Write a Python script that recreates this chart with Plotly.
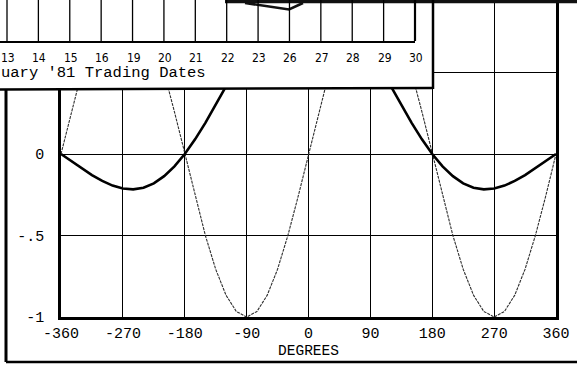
import plotly.graph_objects as go

# ---------------- data ----------------
degrees = list(range(-360, 361, 15))
sine_values = [0, .259, .5, .707, .866, .966, 1, .966, .866, .707, .5, .259,
               0, -.259, -.5, -.707, -.866, -.966, -1, -.966, -.866, -.707, -.5, -.259,
               0, .259, .5, .707, .866, .966, 1, .966, .866, .707, .5, .259,
               0, -.259, -.5, -.707, -.866, -.966, -1, -.966, -.866, -.707, -.5, -.259, 0]
sinc_values = [0, -.043, -.087, -.129, -.165, -.194, -.212, -.217, -.207, -.180, -.136, -.076,
               0, .090, .191, .300, .414, .527, .637, .738, .827, .900, .955, .989,
               1, .989, .955, .900, .827, .738, .637, .527, .414, .300, .191, .090,
               0, -.076, -.136, -.180, -.207, -.217, -.212, -.194, -.165, -.129, -.087, -.043, 0]
x_ticks = [-360, -270, -180, -90, 0, 90, 180, 270, 360]
x_tick_labels = ["-360", "-270", "-180", "-90", "0", "90", "180", "270", "360"]
y_ticks = [-1, -0.5, 0, 0.5]
y_tick_labels = ["-1", "-.5", "0", ""]   # the .5 label is hidden under the overlapping panel
date_labels = ["13", "14", "15", "16", "19", "20", "21", "22", "23",
               "26", "27", "28", "29", "30"]
panel_caption = "uary '81 Trading Dates"
axis_title = "DEGREES"

# ---------------- layout geometry ----------------
W, H = 577, 365
L, R, T, B = 61, 21, 2, 48
PW, PH = W - L - R, H - T - B


def px(x):
    return (x - L) / PW


def py(y):
    return (H - B - y) / PH


MONO = "Liberation Mono, DejaVu Sans Mono"
NARROW = "DejaVu Sans Condensed, Liberation Sans Narrow, DejaVu Sans"

fig = go.Figure()
fig.add_trace(go.Scatter(x=degrees, y=sine_values, mode="lines",
                         line=dict(color="#2e2e2e", width=1.1, dash="3px,1px"),
                         showlegend=False))
fig.add_trace(go.Scatter(x=degrees, y=sinc_values, mode="lines",
                         line=dict(color="black", width=2.6),
                         showlegend=False))

shapes = []


def seg(x0, y0, x1, y1, w=1, color="black"):
    shapes.append(dict(type="line", xref="paper", yref="paper",
                       x0=px(x0), y0=py(y0), x1=px(x1), y1=py(y1),
                       line=dict(color=color, width=w), layer="above"))


def poly(points, w=1, color="black"):
    d = ""
    for k, (a, b) in enumerate(points):
        d += ("M " if k == 0 else " L ") + "%.5f,%.5f" % (px(a), py(b))
    shapes.append(dict(type="path", xref="paper", yref="paper", path=d,
                       line=dict(color=color, width=w), layer="above"))


# outer frame of the printed page
seg(6, 88, 6, 362, 3)
seg(6, 362, 577, 362, 2.5)

# overlapping panel (another chart lying on top)
shapes.append(dict(type="rect", xref="paper", yref="paper",
                   x0=px(-5), x1=px(433), y0=py(-5), y1=py(89),
                   fillcolor="white", line=dict(width=0), layer="above"))
# dark edge along the top
seg(225, 1.5, 577, 1.5, 3.5, "#111")
poly([(245, 3), (289, 9.5), (303, 3)], 2.5, "#111")
seg(433, 0, 433, 89, 2.5)
seg(0, 89.5, 433, 88, 2.5)
seg(0, 42, 415, 42, 2.2)
step = (415 - 7) / (len(date_labels) - 1)
for i in range(len(date_labels)):
    xx = 7 + i * step
    poly([(xx, 0), (xx, 41)], 1.3 if i < len(date_labels) - 1 else 2.2)

annotations = []
for i, lab in enumerate(date_labels):
    annotations.append(dict(xref="paper", yref="paper", x=px(8 + i * step), y=py(58),
                            text=lab, showarrow=False, xanchor="center", yanchor="middle",
                            font=dict(family=NARROW, size=12, color="black")))
annotations.append(dict(xref="paper", yref="paper", x=px(-1), y=py(73),
                        text=panel_caption, showarrow=False, xanchor="left",
                        yanchor="middle",
                        font=dict(family=MONO, size=15.5, color="black")))

fig.update_layout(
    width=W, height=H,
    margin=dict(l=L, r=R, t=T, b=B, autoexpand=False),
    paper_bgcolor="white", plot_bgcolor="white",
    shapes=shapes, annotations=annotations,
    xaxis=dict(range=[-360, 360], tickvals=x_ticks, ticktext=x_tick_labels,
               showgrid=True, gridcolor="black", gridwidth=1,
               showline=True, linecolor="black", linewidth=2.5,
               ticks="", ticklabelstandoff=0, zeroline=False,
               tickfont=dict(family=MONO, size=15, color="black"),
               title=dict(text=axis_title, standoff=0,
                          font=dict(family=MONO, size=14.5, color="black"))),
    yaxis=dict(range=[-1, -1 + PH / 163.0], tickvals=y_ticks, ticktext=y_tick_labels,
               showgrid=True, gridcolor="black", gridwidth=1,
               showline=True, mirror=True, linecolor="black", linewidth=2.5,
               ticks="", ticklabelstandoff=11, zeroline=False,
               tickfont=dict(family=MONO, size=15, color="black")),
)

fig.write_html("out.html", config={"displayModeBar": False},
               post_script="document.body.style.margin='0';document.body.style.padding='0';")
